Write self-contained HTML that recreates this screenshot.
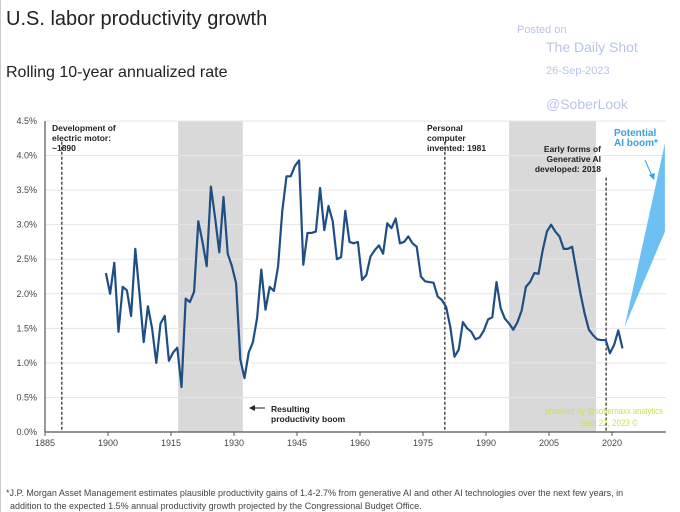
<!DOCTYPE html>
<html><head><meta charset="utf-8"><style>
body{margin:0;background:#fff;width:680px;height:512px;overflow:hidden;font-family:"Liberation Sans",sans-serif}
svg{display:block}
</style></head><body>
<svg id="chart" width="680" height="512" viewBox="0 0 680 512">
<rect x="0" y="0" width="680" height="512" fill="#fff"/>
<line x1="0.5" y1="0" x2="0.5" y2="512" stroke="#ccc"/>
<text x="6" y="25" font-size="20" fill="#222">U.S. labor productivity growth</text>
<text x="6" y="77" font-size="16" fill="#222">Rolling 10-year annualized rate</text>
<g fill="#b9c4e6">
<text x="517" y="33" font-size="11">Posted on</text>
<text x="546" y="52" font-size="14">The Daily Shot</text>
<text x="546" y="74" font-size="11">26-Sep-2023</text>
<text x="546" y="109" font-size="14">@SoberLook</text>
</g>
<g id="bands"></g><g id="grid"></g><g id="axes"></g><g id="marks"></g><g id="notes"></g>
<text x="545" y="414" font-size="9" textLength="118" lengthAdjust="spacingAndGlyphs" fill="#c5e35c">provided by @sobernaxx analytics</text>
<text x="580" y="426" font-size="9" textLength="58" lengthAdjust="spacingAndGlyphs" fill="#c5e35c">Sept 22, 2023 ©</text>
<text x="6" y="496" font-size="9" fill="#444">*J.P. Morgan Asset Management estimates plausible productivity gains of 1.4-2.7% from generative AI and other AI technologies over the next few years, in</text>
<text x="10" y="509" font-size="9" fill="#444">addition to the expected 1.5% annual productivity growth projected by the Congressional Budget Office.</text>
</svg>
<script>
const years=[1899,1900,1901,1902,1903,1904,1905,1906,1907,1908,1909,1910,1911,1912,1913,1914,1915,1916,1917,1918,1919,1920,1921,1922,1923,1924,1925,1926,1927,1928,1929,1930,1931,1932,1933,1934,1935,1936,1937,1938,1939,1940,1941,1942,1943,1944,1945,1946,1947,1948,1949,1950,1951,1952,1953,1954,1955,1956,1957,1958,1959,1960,1961,1962,1963,1964,1965,1966,1967,1968,1969,1970,1971,1972,1973,1974,1975,1976,1977,1978,1979,1980,1981,1982,1983,1984,1985,1986,1987,1988,1989,1990,1991,1992,1993,1994,1995,1996,1997,1998,1999,2000,2001,2002,2003,2004,2005,2006,2007,2008,2009,2010,2011,2012,2013,2014,2015,2016,2017,2018,2019,2020,2021,2022];
const values=[2.3,2.0,2.45,1.45,2.1,2.05,1.68,2.65,2.0,1.3,1.82,1.5,1.0,1.57,1.68,1.03,1.15,1.22,0.65,1.93,1.88,2.03,3.05,2.75,2.4,3.55,3.1,2.6,3.4,2.58,2.4,2.15,1.05,0.78,1.15,1.3,1.65,2.35,1.77,2.1,2.04,2.4,3.2,3.7,3.7,3.85,3.93,2.42,2.88,2.88,2.9,3.53,2.92,3.27,3.05,2.5,2.53,3.2,2.75,2.73,2.75,2.2,2.27,2.54,2.63,2.7,2.58,3.02,2.95,3.09,2.73,2.75,2.83,2.73,2.68,2.25,2.18,2.17,2.16,1.96,1.91,1.81,1.52,1.09,1.19,1.59,1.5,1.45,1.34,1.37,1.47,1.63,1.66,2.17,1.79,1.64,1.57,1.48,1.59,1.76,2.1,2.17,2.3,2.29,2.63,2.9,3.0,2.9,2.83,2.65,2.65,2.68,2.34,2.0,1.71,1.48,1.4,1.34,1.33,1.33,1.14,1.26,1.47,1.21];
const xTicks=[1885,1900,1915,1930,1945,1960,1975,1990,2005,2020];
const yTicks=[0,0.5,1,1.5,2,2.5,3,3.5,4,4.5];
const bandStarts=[1916.7,1995.5];
const bandEnds=[1932.1,2016.2];
const eventYears=[1889,1980.2,2018.6];
const eventTops=[4.2,4.2,3.68];
const fanYears=[2023,2032.6];
const fanLow=[1.52,2.9];
const fanHigh=[1.52,4.18];

const X0=45,X1=666,Y0=432,YT=121;
const x=y=>X0+(y-1885)*4.2;
const yv=v=>Y0-v*(Y0-YT)/4.5;
const NS='http://www.w3.org/2000/svg';
function mk(parent,tag,attrs){const e=document.createElementNS(NS,tag);for(const k in attrs)e.setAttribute(k,attrs[k]);document.getElementById(parent).appendChild(e);return e;}

bandStarts.forEach((s,i)=>{
 const r=mk('bands','rect',{x:x(s),y:YT,width:x(bandEnds[i])-x(s),height:Y0-YT,fill:'#d9d9d9'});
 
 
});
yTicks.forEach(t=>{
 if(t>0){const g=mk('grid','line',{x1:X0,x2:X1,y1:yv(t),y2:yv(t),stroke:'#e6e6e6','stroke-width':1});
 
 }
 const l=mk('axes','text',{x:37,y:yv(t)+3,'font-size':9,fill:'#444','text-anchor':'end'});
 l.textContent=t.toFixed(1)+'%';
 
 
});
xTicks.forEach(t=>{
 mk('axes','line',{x1:x(t),x2:x(t),y1:Y0,y2:Y0+4,stroke:'#555'});
 const l=mk('axes','text',{x:x(t),y:Y0+14,'font-size':9,fill:'#444','text-anchor':'middle'});
 l.textContent=t;
 
 
});
const xa=mk('axes','line',{x1:X0,x2:X1,y1:Y0,y2:Y0,stroke:'#555','stroke-width':1.2});


const ya=mk('axes','line',{x1:X0,x2:X0,y1:YT,y2:Y0,stroke:'#555','stroke-width':1.2});



eventYears.forEach((e,i)=>{
 const l=mk('marks','line',{x1:x(e),x2:x(e),y1:yv(eventTops[i]),y2:Y0,stroke:'#333','stroke-width':1.3,'stroke-dasharray':'3,2'});
 
 
});
const fp=mk('marks','polygon',{points:fanYears.map((f,i)=>x(f)+','+yv(fanHigh[i])).concat(fanYears.slice().reverse().map((f,i)=>x(f)+','+yv(fanLow[fanYears.length-1-i]))).join(' '),fill:'#6fc0f2'});


const line=mk('marks','polyline',{points:years.map((y,i)=>x(y+0.5)+','+yv(values[i])).join(' '),fill:'none',stroke:'#1f4e84','stroke-width':2.2,'stroke-linejoin':'round'});



const notes=[
 {t:['Development of','electric motor:','~1890'],x:52,y:131,a:'start',c:'#222',n:'note-electric-motor'},
 {t:['Personal','computer','invented: 1981'],x:427,y:131,a:'start',c:'#222',n:'note-personal-computer'},
 {t:['Early forms of','Generative AI','developed: 2018'],x:601,y:152,a:'end',c:'#222',n:'note-generative-ai'},
 {t:['Potential','AI boom*'],x:614,y:136,a:'start',c:'#3aa0e6',n:'note-ai-boom'},
 {t:['Resulting','productivity boom'],x:271,y:412,a:'start',c:'#222',n:'note-productivity-boom'}
];
notes.forEach(o=>{
 const t=mk('notes','text',{x:o.x,y:o.y,'font-size':o.n==='note-ai-boom'?10:8.5,'font-weight':'bold',fill:o.c,'text-anchor':o.a});
 
 
 o.t.forEach((s,i)=>{const ts=document.createElementNS(NS,'tspan');ts.setAttribute('x',o.x);ts.setAttribute('dy',i?10:0);ts.textContent=s;t.appendChild(ts);});
});
mk('notes','line',{x1:265,x2:253,y1:408,y2:408,stroke:'#222','stroke-width':1});
mk('notes','polygon',{points:'249,408 255,405 255,411',fill:'#222'});
mk('notes','line',{x1:645,x2:652,y1:160,y2:176,stroke:'#3aa0e6','stroke-width':1});
mk('notes','polygon',{points:'654,180 649,175 655,173',fill:'#3aa0e6'});
</script>
</body></html>
